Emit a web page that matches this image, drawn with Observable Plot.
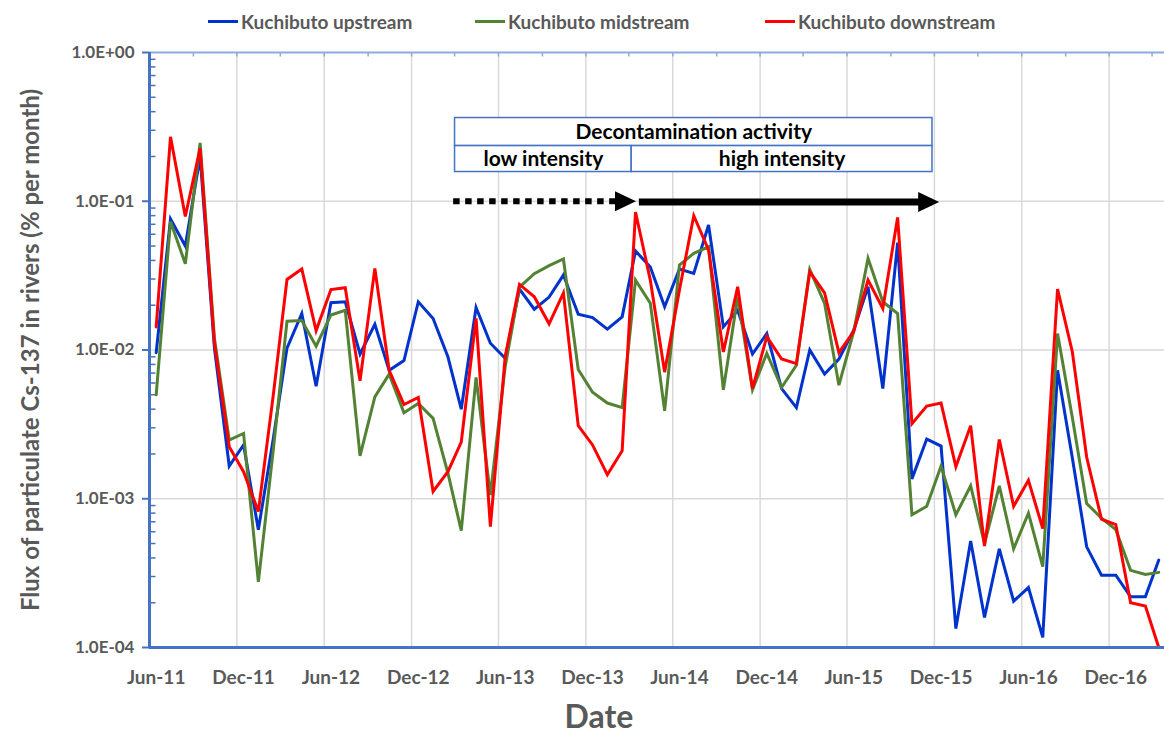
<!DOCTYPE html>
<html>
<head>
<meta charset="utf-8">
<script src="https://cdn.jsdelivr.net/npm/d3@7"></script>
<script src="https://cdn.jsdelivr.net/npm/@observablehq/plot@0.6"></script>
<style>
  body { margin: 0; background: #fff; font-family: Lato, sans-serif; }
  #wrap { position: relative; width: 1164px; height: 733px; overflow: hidden; background: #fff; }
  #legend { position: absolute; left: 0; top: 6px; width: 1164px; height: 30px; font-weight: bold; font-size: 19px; color: #595959; }
  .item { position: absolute; top: 0; height: 30px; display: flex; align-items: center; white-space: nowrap; }
  .sw { width: 30px; height: 3px; margin-right: 3px; }
  #chart { position: absolute; left: 0; top: 40px; }
</style>
</head>
<body>
<div id="wrap">
  <div id="legend"></div>
  <div id="chart"></div>
</div>
<script>
// ---------- data ----------
const months = ["2011-06","2011-07","2011-08","2011-09","2011-10","2011-11","2011-12","2012-01","2012-02","2012-03",
  "2012-04","2012-05","2012-06","2012-07","2012-08","2012-09","2012-10","2012-11","2012-12","2013-01",
  "2013-02","2013-03","2013-04","2013-05","2013-06","2013-07","2013-08","2013-09","2013-10","2013-11",
  "2013-12","2014-01","2014-02","2014-03","2014-04","2014-05","2014-06","2014-07","2014-08","2014-09",
  "2014-10","2014-11","2014-12","2015-01","2015-02","2015-03","2015-04","2015-05","2015-06","2015-07",
  "2015-08","2015-09","2015-10","2015-11","2015-12","2016-01","2016-02","2016-03","2016-04","2016-05",
  "2016-06","2016-07","2016-08","2016-09","2016-10","2016-11","2016-12","2017-01","2017-02","2017-03"];

const seriesNames = ["Kuchibuto upstream", "Kuchibuto midstream", "Kuchibuto downstream"];
const seriesColors = ["#0033CC", "#548235", "#FF0000"];

const upstream = [0.0096,0.076,0.050,0.20,0.0103,0.00166,0.0023,0.00062,0.0025,0.0103,
  0.0176,0.0057,0.0208,0.0211,0.0094,0.0149,0.0073,0.0085,0.0211,0.0163,
  0.0090,0.0040,0.0193,0.0111,0.0088,0.0257,0.0188,0.0227,0.0319,0.0174,
  0.0165,0.0138,0.0167,0.0463,0.0361,0.0195,0.0350,0.0327,0.0692,0.0143,
  0.0185,0.0094,0.0129,0.0055,0.0041,0.0100,0.0069,0.0087,0.0136,0.0266,
  0.0055,0.0526,0.00136,0.00252,0.00226,0.000134,0.00052,0.000159,0.00046,0.000205,
  0.000253,0.000117,0.0073,0.00188,0.000475,0.000306,0.000306,0.000219,0.000219,0.000387];

const midstream = [0.0050,0.073,0.038,0.247,0.012,0.00248,0.00275,0.000276,0.00209,0.0156,
  0.0158,0.0106,0.0172,0.0185,0.00194,0.00484,0.00688,0.00378,0.00437,0.00347,
  0.00149,0.00061,0.00654,0.00106,0.0077,0.0265,0.0326,0.0369,0.0409,0.0074,
  0.0052,0.0044,0.0041,0.0295,0.0206,0.0039,0.0372,0.0446,0.0494,0.0054,
  0.0228,0.0054,0.0095,0.0056,0.0079,0.0348,0.0206,0.0058,0.0133,0.0413,
  0.0211,0.0176,0.00078,0.00089,0.00166,0.00078,0.00122,0.00050,0.00122,0.00046,
  0.00080,0.00035,0.0129,0.0035,0.00093,0.00074,0.00062,0.00033,0.00031,0.00032];

const downstream = [0.0143,0.271,0.079,0.227,0.0111,0.00224,0.00152,0.00082,0.0049,0.0298,
  0.0350,0.0135,0.0255,0.0262,0.0062,0.0354,0.0073,0.0043,0.0048,0.00112,
  0.00152,0.0024,0.0163,0.00065,0.0090,0.0276,0.0228,0.0150,0.0242,0.0031,
  0.0023,0.00145,0.0021,0.0846,0.0295,0.0071,0.0253,0.0799,0.0470,0.0097,
  0.0266,0.0055,0.0123,0.0087,0.0081,0.0336,0.0242,0.0096,0.0133,0.0295,
  0.0190,0.0779,0.0032,0.0042,0.0044,0.00164,0.0031,0.00048,0.0025,0.00089,
  0.00133,0.00063,0.0257,0.0097,0.0019,0.00073,0.00067,0.00020,0.00019,0.00010];

const xLabels = ["Jun-11","Dec-11","Jun-12","Dec-12","Jun-13","Dec-13","Jun-14","Dec-14","Jun-15","Dec-15","Jun-16","Dec-16"];
const xLabelDates = ["2011-06-15","2011-12-15","2012-06-15","2012-12-15","2013-06-15","2013-12-15","2014-06-15","2014-12-15","2015-06-15","2015-12-15","2016-06-15","2016-12-15"];
const xGridDates = ["2011-12-01","2012-06-01","2012-12-01","2013-06-01","2013-12-01","2014-06-01","2014-12-01","2015-06-01","2015-12-01","2016-06-01","2016-12-01"];
const xQuarterDates = ["2011-09-01","2011-12-01","2012-03-01","2012-06-01","2012-09-01","2012-12-01","2013-03-01","2013-06-01","2013-09-01","2013-12-01","2014-03-01","2014-06-01","2014-09-01","2014-12-01","2015-03-01","2015-06-01","2015-09-01","2015-12-01","2016-03-01","2016-06-01","2016-09-01","2016-12-01","2017-03-01"];
const xDomain = ["2011-06-01", "2017-03-27"];

const yTicks = [1e-4, 1e-3, 1e-2, 1e-1, 1];
const yLabels = ["1.0E-04","1.0E-03","1.0E-02","1.0E-01","1.0E+00"];
const yGrid = [1e-3, 1e-2, 1e-1];
const yMinor = [2e-4,3e-4,4e-4,5e-4,6e-4,7e-4,8e-4,9e-4,
  2e-3,3e-3,4e-3,5e-3,6e-3,7e-3,8e-3,9e-3,
  2e-2,3e-2,4e-2,5e-2,6e-2,7e-2,8e-2,9e-2,
  0.2,0.3,0.4,0.5,0.6,0.7,0.8,0.9];

const yTitle = "Flux of particulate Cs-137 in rivers (% per month)";
const xTitle = "Date";

// annotation (data coordinates)
const boxLabels = ["Decontamination activity", "low intensity", "high intensity"];
const boxX1 = ["2013-03-02", "2013-03-02", "2014-03-07"];
const boxX2 = ["2015-11-27", "2014-03-07", "2015-11-27"];
const boxYTop = [0.3626, 0.235, 0.235];
const boxYBottom = [0.235, 0.1572, 0.1572];

const dottedArrow = {start: "2013-02-26", end: "2014-02-05", tip: "2014-03-16", y: 0.1};
const solidArrow = {start: "2014-03-22", end: "2015-11-25", tip: "2015-12-11", y: 0.099};

// legend item left positions (px)
const legendLeft = [208, 475, 765];

// ---------- build ----------
const D = s => new Date(s);
const dates = months.map(m => D(m + "-15"));
const allSeries = [upstream, midstream, downstream];
const tables = allSeries.map((vals, k) => vals.map((v, i) => ({date: dates[i], value: v, series: seriesNames[k]})));

const boxes = boxLabels.map((label, i) => ({label, x1: D(boxX1[i]), x2: D(boxX2[i]), y1: boxYBottom[i], y2: boxYTop[i]}));

const hTick = {draw(ctx) { ctx.moveTo(0, 0); ctx.lineTo(6, 0); }};
const vTick = {draw(ctx) { ctx.moveTo(0, 0); ctx.lineTo(0, 4); }};
const head = {draw(ctx) { ctx.moveTo(0, 0); ctx.lineTo(-21, -10); ctx.lineTo(-21, 10); ctx.closePath(); }};

const xStart = D(xDomain[0]);

const chart = Plot.plot({
  width: 1164,
  height: 693,
  marginLeft: 149,
  marginRight: 0,
  marginTop: 12,
  marginBottom: 86,
  style: {fontFamily: "Lato, sans-serif", fontWeight: "bold", fontSize: "19px", color: "#595959", background: "#fff", overflow: "visible"},
  x: {type: "utc", domain: xDomain.map(D)},
  y: {type: "log", domain: [1e-4, 1]},
  marks: [
    Plot.gridX(xGridDates.map(D), {stroke: "#D9D9D9", strokeOpacity: 1, strokeWidth: 1.5}),
    Plot.gridY(yGrid, {stroke: "#D9D9D9", strokeOpacity: 1, strokeWidth: 1.5}),
    Plot.ruleY([1], {stroke: "#8FAADC", strokeWidth: 2}),
    Plot.dot(xQuarterDates.map(D), {x: d => d, y: () => 1, symbol: vTick, fill: "none", stroke: "#8FAADC", strokeWidth: 1.5}),
    Plot.axisX({ticks: xLabelDates.map(D), tickFormat: d => xLabels[xLabelDates.findIndex(s => +D(s) === +d)], tickSize: 0, tickPadding: 22, dy: 1, fill: "#595959"}),
    Plot.axisY({ticks: yTicks, tickFormat: d => yLabels[yTicks.indexOf(d)], tickSize: 7, tickPadding: 8, stroke: "#4472C4", strokeWidth: 2, fill: "#595959", fontSize: 17}),
    Plot.dot(yMinor, {x: () => xStart, y: d => d, symbol: hTick, fill: "none", stroke: "#4472C4", strokeWidth: 1.5}),
    ...tables.map((t, k) => Plot.line(t, {x: "date", y: "value", stroke: seriesColors[k], strokeWidth: 3, strokeLinejoin: "miter", strokeMiterlimit: 4})),
    Plot.ruleX([xStart], {stroke: "#4472C4", strokeWidth: 3}),
    Plot.ruleY([1e-4], {stroke: "#4472C4", strokeWidth: 3}),
    // annotation boxes
    Plot.rect(boxes, {x1: "x1", x2: "x2", y1: "y1", y2: "y2", fill: "white", stroke: "#4472C4", strokeWidth: 1.5}),
    Plot.text(boxes, {x: d => new Date((+d.x1 + +d.x2) / 2), y: d => Math.sqrt(d.y1 * d.y2), text: "label", fill: "black", fontSize: 21, fontWeight: "bold"}),
    // arrows
    Plot.link([dottedArrow], {x1: d => D(d.start), x2: d => D(d.end), y1: "y", y2: "y", stroke: "black", strokeWidth: 6, strokeDasharray: "6.5,5.5"}),
    Plot.link([solidArrow], {x1: d => D(d.start), x2: d => D(d.end), y1: "y", y2: "y", stroke: "black", strokeWidth: 7}),
    Plot.dot([dottedArrow, solidArrow], {x: d => D(d.tip), y: "y", symbol: head, fill: "black", stroke: "none"}),
    // axis titles
    Plot.text([xTitle], {frameAnchor: "bottom", text: d => d, dy: 80, dx: -58, fontSize: 32, fontWeight: "bold", fill: "#595959"}),
    Plot.text([yTitle], {frameAnchor: "left", text: d => d, dx: -118, rotate: -90, textAnchor: "middle", lineAnchor: "middle", fontSize: 24, fontWeight: "bold", fill: "#595959"})
  ]
});
document.getElementById("chart").appendChild(chart);

// legend
const legend = document.getElementById("legend");
seriesNames.forEach((name, k) => {
  const item = document.createElement("div");
  item.className = "item";
  item.style.left = legendLeft[k] + "px";
  const sw = document.createElement("span");
  sw.className = "sw";
  sw.style.background = seriesColors[k];
  const label = document.createElement("span");
  label.textContent = name;
  item.appendChild(sw);
  item.appendChild(label);
  legend.appendChild(item);
});
</script>
</body>
</html>
